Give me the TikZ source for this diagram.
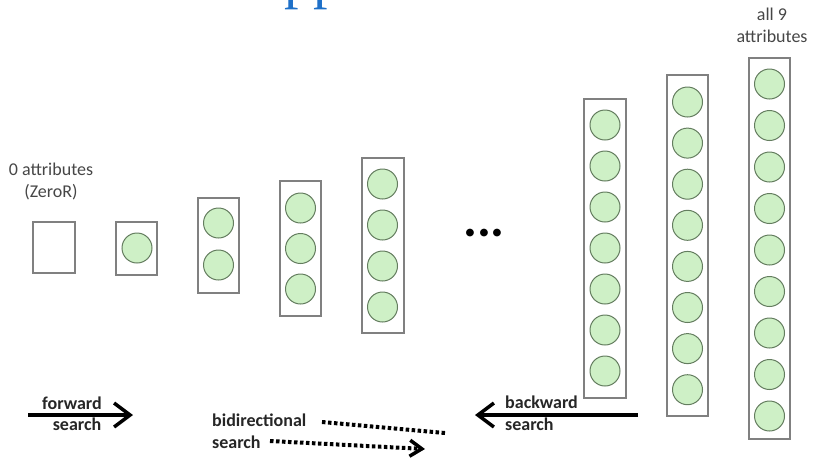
\documentclass[tikz,border=0pt]{standalone}
\usepackage{fontspec}
\setmainfont{Carlito}
\newfontfamily\titlefont{Liberation Serif}
\usetikzlibrary{arrows.meta}
\definecolor{boxgray}{RGB}{128,128,128}
\definecolor{cfill}{RGB}{206,240,198}
\definecolor{cdraw}{RGB}{100,125,95}
\definecolor{titleblue}{RGB}{30,112,200}
\definecolor{txtgray}{RGB}{70,70,70}
\begin{document}
\begin{tikzpicture}[x=1pt,y=-1pt,
  attbox/.style={draw=boxgray,line width=1.2pt,rectangle,inner sep=0pt},
  att/.style={circle,draw=cdraw,fill=cfill,line width=1pt,minimum size=30pt,inner sep=0pt},
  lbl/.style={inner sep=0pt,text=txtgray,font=\fontsize{18}{22}\selectfont},
  blbl/.style={inner sep=0pt,text=black!85,font=\fontsize{18}{22}\selectfont\bfseries},
  bigarrow/.style={line width=3.5pt,-{Straight Barb[length=16pt,width=24pt]}},
  dotline/.style={line width=4pt,dash pattern=on 3.5pt off 2.5pt}]
\useasboundingbox (0,0) rectangle (821,459);
\clip (0,0) rectangle (821,459);
% cut-off title
\node[anchor=base west,inner sep=0pt,font=\titlefont\fontsize{58}{58}\selectfont,text=titleblue] (title) at (284,-3) {pp};
% boxes
\node[attbox,minimum width=42pt,minimum height=51pt] (b0) at (54,247.5) {};
\node[attbox,minimum width=41pt,minimum height=53pt] (b1) at (136.5,248.5) {};
\node[attbox,minimum width=41pt,minimum height=95pt] (b2) at (218.5,245.5) {};
\node[attbox,minimum width=41pt,minimum height=135pt] (b3) at (300.5,248.5) {};
\node[attbox,minimum width=42pt,minimum height=175pt] (b4) at (383,245.5) {};
\node[attbox,minimum width=42pt,minimum height=299pt] (b7) at (605,248.5) {};
\node[attbox,minimum width=41pt,minimum height=341pt] (b8) at (687.5,245.5) {};
\node[attbox,minimum width=41pt,minimum height=381pt] (b9) at (769.5,248.5) {};
% attributes
\node[att] (c1-0) at (137,248) {};
\foreach \k in {0,1} \node[att] (c2-\k) at (218.5,{223+42*\k}) {};
\foreach \k in {0,1,2} \node[att] (c3-\k) at (300.5,{208+40.5*\k}) {};
\foreach \k in {0,...,3} \node[att] (c4-\k) at (382.5,{184+41*\k}) {};
\foreach \k in {0,...,6} \node[att] (c7-\k) at (605,{125+41*\k}) {};
\foreach \k in {0,...,7} \node[att] (c8-\k) at (687.5,{102+41.1*\k}) {};
\foreach \k in {0,...,8} \node[att] (c9-\k) at (769.5,{84+41.5*\k}) {};
% dots
\node[inner sep=0pt,font=\fontsize{52}{52}\selectfont\bfseries] (dots) at (484,233) {...};
% labels
\node[lbl,align=center] (zero) at (51,181) {0 attributes\\(ZeroR)};
\node[lbl,align=center] (all) at (772,25) {all 9\\attributes};
% forward
\coordinate (fws) at (28,415);
\coordinate (fwe) at (133,415);
\draw[bigarrow] (fws) -- (fwe);
\node[blbl] (fwt) at (72,403) {forward};
\node[blbl] (fwb) at (77,424) {search};
% backward
\coordinate (bws) at (638,415);
\coordinate (bwe) at (475,415);
\draw[bigarrow] (bws) -- (bwe);
\node[blbl,anchor=west] (bwt) at (505,402) {backward};
\node[blbl,anchor=west] (bwb) at (505,424) {search};
% bidirectional
\node[blbl,anchor=west] (bdt) at (212,420) {bidirectional};
\node[blbl,anchor=west] (bdb) at (212,442) {search};
\coordinate (bd1s) at (322,422);
\coordinate (bd1e) at (445,433);
\coordinate (bd2s) at (270,441);
\coordinate (bd2e) at (425,449);
\draw[dotline] (bd1s) -- (bd1e);
\draw[dotline,-{Straight Barb[length=12pt,width=16pt,line width=3.5pt]}] (bd2s) -- (bd2e);
\end{tikzpicture}
\end{document}
